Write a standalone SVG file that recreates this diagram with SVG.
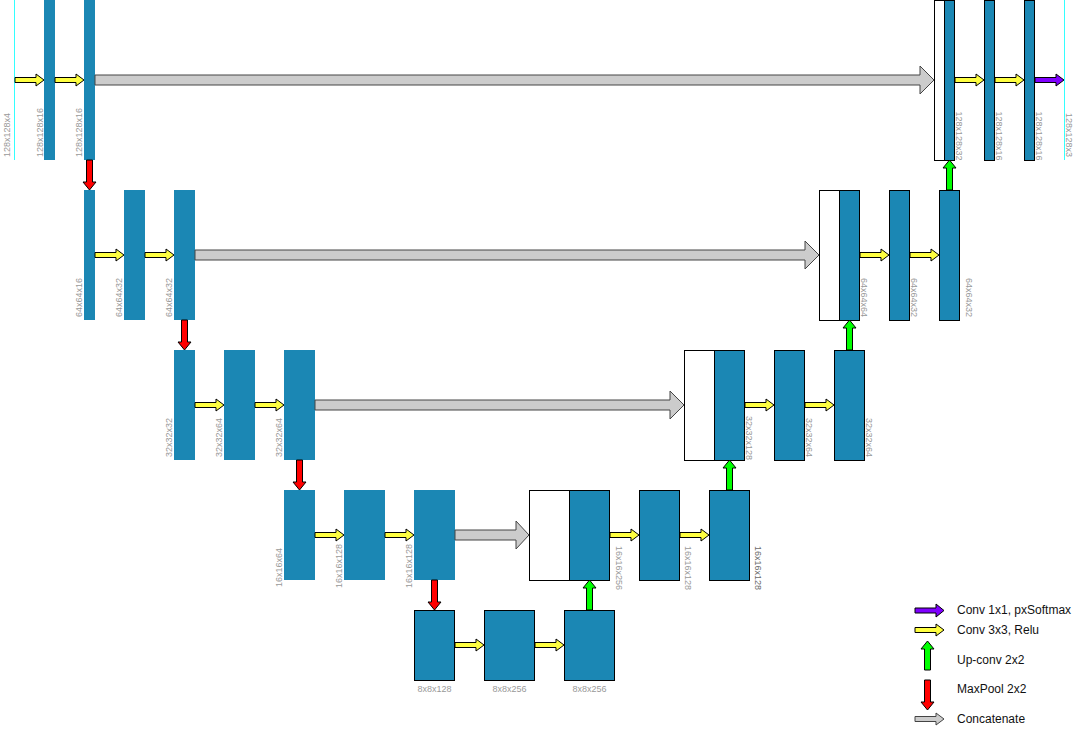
<svg xmlns="http://www.w3.org/2000/svg" width="1086" height="731" viewBox="0 0 1086 731">
<style>
.bg{fill:#ffffff}
.enc{fill:#1b87b4}
.dec{fill:#1b87b4;stroke:#000;stroke-width:1}
.wht{fill:#ffffff;stroke:#000;stroke-width:1}
.io{stroke:#33ffff;stroke-width:1;fill:none}
.yel{fill:#ffff40;stroke:#000;stroke-width:1}
.pur{fill:#7f00ff;stroke:#000;stroke-width:1}
.grn{fill:#00ff00;stroke:#000;stroke-width:1}
.red{fill:#ff0000;stroke:#000;stroke-width:1}
.cat{fill:#cccccc;stroke:#444;stroke-width:1}
.lbl{font-family:"Liberation Sans",Arial,sans-serif;font-size:9px;fill:#999999}
.lbld{fill:#6a6a6a}
.leg{font-family:"Liberation Sans",Arial,sans-serif;font-size:12px;fill:#111111}
</style>
<rect class="bg" x="0" y="0" width="1086" height="731"/>

<!-- Row 1 encoder -->
<g id="input">
<line class="io" x1="14.5" y1="0" x2="14.5" y2="160"/>
<text class="lbl" transform="translate(10,157) rotate(-90)">128x128x4</text>
</g>
<g id="enc1a"><rect class="enc" x="44" y="0" width="11" height="160"/>
<text class="lbl" transform="translate(42.5,157) rotate(-90)">128x128x16</text></g>
<g id="enc1b"><rect class="enc" x="84" y="0" width="11" height="160"/>
<text class="lbl" transform="translate(81.5,157) rotate(-90)">128x128x16</text></g>

<!-- Row 2 encoder -->
<g id="enc2a"><rect class="enc" x="84" y="190" width="11" height="130"/>
<text class="lbl" transform="translate(81.5,317) rotate(-90)">64x64x16</text></g>
<g id="enc2b"><rect class="enc" x="124" y="190" width="21" height="130"/>
<text class="lbl" transform="translate(122,317) rotate(-90)">64x64x32</text></g>
<g id="enc2c"><rect class="enc" x="174" y="190" width="21" height="130"/>
<text class="lbl" transform="translate(172,317) rotate(-90)">64x64x32</text></g>

<!-- Row 3 encoder -->
<g id="enc3a"><rect class="enc" x="174" y="350" width="21" height="110"/>
<text class="lbl" transform="translate(172,457) rotate(-90)">32x32x32</text></g>
<g id="enc3b"><rect class="enc" x="224" y="350" width="31" height="110"/>
<text class="lbl" transform="translate(222,457) rotate(-90)">32x32x64</text></g>
<g id="enc3c"><rect class="enc" x="284" y="350" width="31" height="110"/>
<text class="lbl" transform="translate(282,457) rotate(-90)">32x32x64</text></g>

<!-- Row 4 encoder -->
<g id="enc4a"><rect class="enc" x="284" y="490" width="31" height="90"/>
<text class="lbl" transform="translate(282,587) rotate(-90)">16x16x64</text></g>
<g id="enc4b"><rect class="enc" x="344" y="490" width="41" height="90"/>
<text class="lbl" transform="translate(342,588) rotate(-90)">16x16x128</text></g>
<g id="enc4c"><rect class="enc" x="414" y="490" width="41" height="90"/>
<text class="lbl" transform="translate(412,588) rotate(-90)">16x16x128</text></g>

<!-- Row 5 bottleneck -->
<g id="bot1"><rect class="dec" x="414.5" y="610.5" width="40" height="70"/>
<text class="lbl" x="434.5" y="691.5" text-anchor="middle">8x8x128</text></g>
<g id="bot2"><rect class="dec" x="484.5" y="610.5" width="50" height="70"/>
<text class="lbl" x="509.5" y="691.5" text-anchor="middle">8x8x256</text></g>
<g id="bot3"><rect class="dec" x="564.5" y="610.5" width="50" height="70"/>
<text class="lbl" x="589.5" y="691.5" text-anchor="middle">8x8x256</text></g>

<!-- Row 4 decoder -->
<g id="dec4a"><rect class="wht" x="529.5" y="490.5" width="40" height="90"/><rect class="dec" x="569.5" y="490.5" width="40" height="90"/>
<text class="lbl" transform="translate(616,546) rotate(90)">16x16x256</text></g>
<g id="dec4b"><rect class="dec" x="639.5" y="490.5" width="40" height="90"/>
<text class="lbl" transform="translate(684.5,546) rotate(90)">16x16x128</text></g>
<g id="dec4c"><rect class="dec" x="709.5" y="490.5" width="40" height="90"/>
<text class="lbl lbld" transform="translate(755,546) rotate(90)">16x16x128</text></g>

<!-- Row 3 decoder -->
<g id="dec3a"><rect class="wht" x="684.5" y="350.5" width="30" height="110"/><rect class="dec" x="714.5" y="350.5" width="30" height="110"/>
<text class="lbl" transform="translate(745.5,416) rotate(90)">32x32x128</text></g>
<g id="dec3b"><rect class="dec" x="774.5" y="350.5" width="30" height="110"/>
<text class="lbl" transform="translate(805.5,418) rotate(90)">32x32x64</text></g>
<g id="dec3c"><rect class="dec" x="834.5" y="350.5" width="30" height="110"/>
<text class="lbl" transform="translate(865.5,418) rotate(90)">32x32x64</text></g>

<!-- Row 2 decoder -->
<g id="dec2a"><rect class="wht" x="819.5" y="190.5" width="20" height="130"/><rect class="dec" x="839.5" y="190.5" width="20" height="130"/>
<text class="lbl" transform="translate(860.5,278) rotate(90)">64x64x64</text></g>
<g id="dec2b"><rect class="dec" x="889.5" y="190.5" width="20" height="130"/>
<text class="lbl" transform="translate(910.5,278) rotate(90)">64x64x32</text></g>
<g id="dec2c"><rect class="dec" x="939.5" y="190.5" width="20" height="130"/>
<text class="lbl" transform="translate(966,278) rotate(90)">64x64x32</text></g>

<!-- Row 1 decoder -->
<g id="dec1a"><rect class="wht" x="934.5" y="0.5" width="10" height="160"/><rect class="dec" x="944.5" y="0.5" width="10" height="160"/>
<text class="lbl" transform="translate(955.5,111.5) rotate(90)">128x128x32</text></g>
<g id="dec1b"><rect class="dec" x="984.5" y="0.5" width="10" height="160"/>
<text class="lbl" transform="translate(995.5,111.5) rotate(90)">128x128x16</text></g>
<g id="dec1c"><rect class="dec" x="1024.5" y="0.5" width="10" height="160"/>
<text class="lbl" transform="translate(1035.5,111.5) rotate(90)">128x128x16</text></g>
<g id="output">
<line class="io" x1="1064.5" y1="0" x2="1064.5" y2="160"/>
<text class="lbl" transform="translate(1066,113) rotate(90)">128x128x3</text>
</g>

<!-- Connectors -->
<g id="connectors">
<!-- conv 3x3 (yellow) -->
<path class="yel" d="M15,77.5 H36 V74 L44,80 L36,86 V82.5 H15 Z"/>
<path class="yel" d="M55,77.5 H76 V74 L84,80 L76,86 V82.5 H55 Z"/>
<path class="yel" d="M95,252.5 H116 V249 L124,255 L116,261 V257.5 H95 Z"/>
<path class="yel" d="M145,252.5 H166 V249 L174,255 L166,261 V257.5 H145 Z"/>
<path class="yel" d="M195,402.5 H216 V399 L224,405 L216,411 V407.5 H195 Z"/>
<path class="yel" d="M255,402.5 H276 V399 L284,405 L276,411 V407.5 H255 Z"/>
<path class="yel" d="M315,532.5 H336 V529 L344,535 L336,541 V537.5 H315 Z"/>
<path class="yel" d="M385,532.5 H406 V529 L414,535 L406,541 V537.5 H385 Z"/>
<path class="yel" d="M455,642.5 H476 V639 L484,645 L476,651 V647.5 H455 Z"/>
<path class="yel" d="M535,642.5 H556 V639 L564,645 L556,651 V647.5 H535 Z"/>
<path class="yel" d="M610,532.5 H631 V529 L639,535 L631,541 V537.5 H610 Z"/>
<path class="yel" d="M680,532.5 H701 V529 L709,535 L701,541 V537.5 H680 Z"/>
<path class="yel" d="M745,402.5 H766 V399 L774,405 L766,411 V407.5 H745 Z"/>
<path class="yel" d="M805,402.5 H826 V399 L834,405 L826,411 V407.5 H805 Z"/>
<path class="yel" d="M860,252.5 H881 V249 L889,255 L881,261 V257.5 H860 Z"/>
<path class="yel" d="M910,252.5 H931 V249 L939,255 L931,261 V257.5 H910 Z"/>
<path class="yel" d="M955,77.5 H976 V74 L984,80 L976,86 V82.5 H955 Z"/>
<path class="yel" d="M995,77.5 H1016 V74 L1024,80 L1016,86 V82.5 H995 Z"/>
<!-- conv 1x1 (purple) -->
<path class="pur" d="M1035,77.5 H1056 V74 L1064,80 L1056,86 V82.5 H1035 Z"/>
<!-- concatenate (gray) -->
<path class="cat" d="M95,75 H920 V66 L934,80 L920,94 V85 H95 Z"/>
<path class="cat" d="M195,250 H805 V241 L819,255 L805,269 V260 H195 Z"/>
<path class="cat" d="M315,400 H670 V391 L684,405 L670,419 V410 H315 Z"/>
<path class="cat" d="M455,530 H516 V521 L529,535 L516,549 V540 H455 Z"/>
<!-- maxpool (red) -->
<path class="red" d="M86.5,160 V182 H83 L89.5,190 L96,182 H92.5 V160 Z"/>
<path class="red" d="M181.5,320 V342 H178 L184.5,350 L191,342 H187.5 V320 Z"/>
<path class="red" d="M296.5,460 V482 H293 L299.5,490 L306,482 H302.5 V460 Z"/>
<path class="red" d="M431.5,580 V602 H428 L434.5,610 L441,602 H437.5 V580 Z"/>
<!-- up-conv (green) -->
<path class="grn" d="M586.5,610 V588 H583 L589.5,580 L596,588 H592.5 V610 Z"/>
<path class="grn" d="M726.5,490 V468 H723 L729.5,460 L736,468 H732.5 V490 Z"/>
<path class="grn" d="M846.5,350 V328 H843 L849.5,320 L856,328 H852.5 V350 Z"/>
<path class="grn" d="M946.5,190 V168 H943 L949.5,160 L956,168 H952.5 V190 Z"/>
</g>

<!-- Legend -->
<g id="legend">
<path class="pur" d="M915,608 H936 V604 L944,610.5 L936,617 V613 H915 Z"/>
<text class="leg" x="957" y="614">Conv 1x1, pxSoftmax</text>
<path class="yel" d="M915,627.5 H936 V624 L944,630 L936,636 V632.5 H915 Z"/>
<text class="leg" x="957" y="634">Conv 3x3, Relu</text>
<path class="grn" d="M924.5,670 V649 H921 L927.5,641 L934,649 H930.5 V670 Z"/>
<text class="leg" x="957" y="663.5">Up-conv 2x2</text>
<path class="red" d="M924.5,680 V702 H921 L927.5,710 L934,702 H930.5 V680 Z"/>
<text class="leg" x="957" y="693">MaxPool 2x2</text>
<path class="cat" d="M915,716.5 H936 V713 L944,719 L936,725 V721.5 H915 Z"/>
<text class="leg" x="957" y="722.5">Concatenate</text>
</g>
</svg>
